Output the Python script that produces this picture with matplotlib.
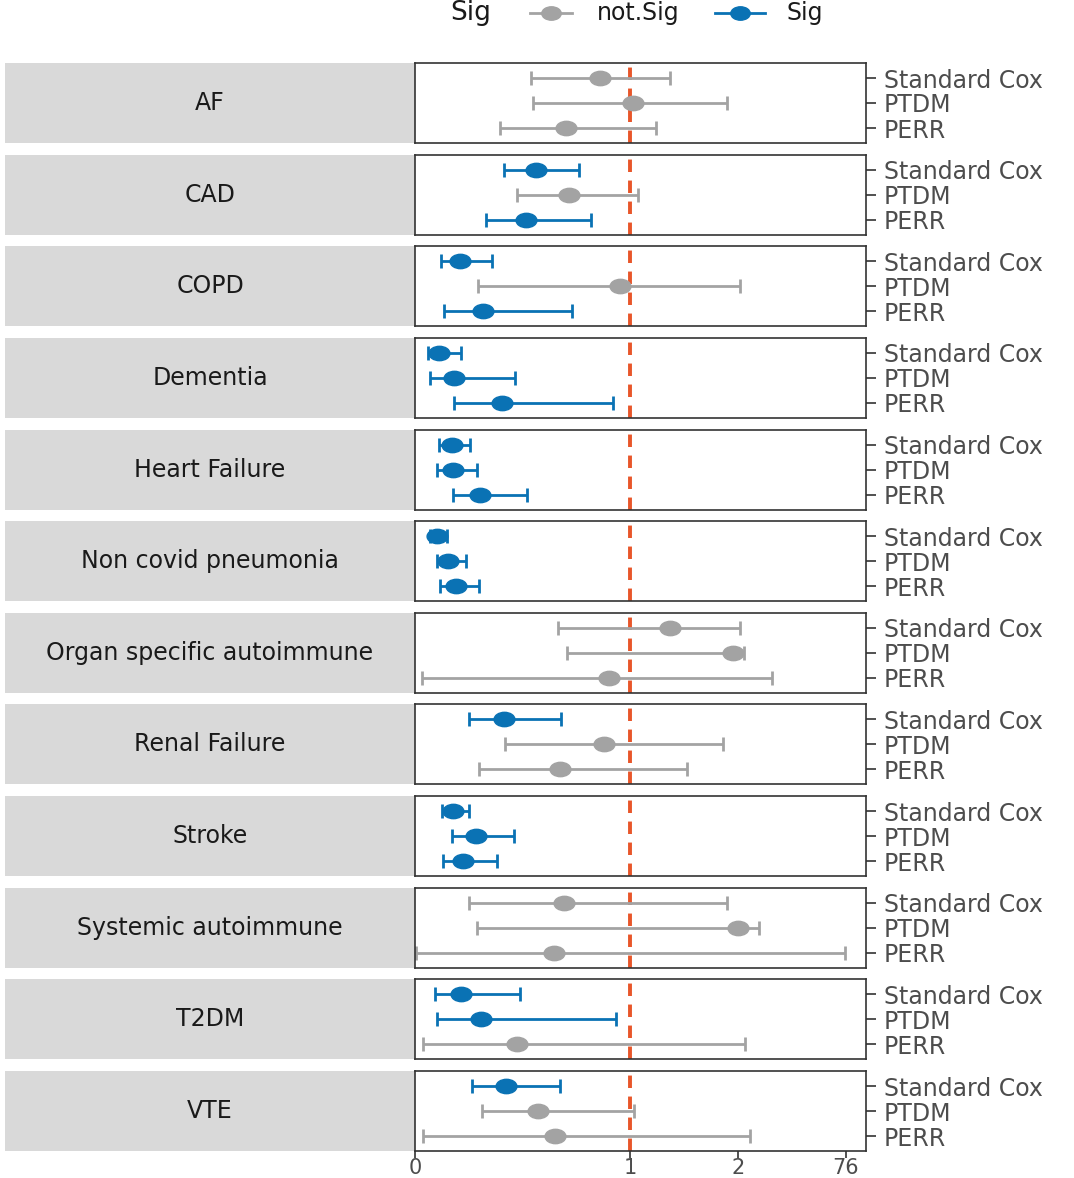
"""
Forest plot: hazard ratios per outcome for Standard Cox, PTDM and PERR.
"""

import numpy as np
import matplotlib.pyplot as plt
from matplotlib.lines import Line2D
from matplotlib.path import Path

# outcomes, top to bottom
outcomes = ["AF", "CAD", "COPD", "Dementia", "Heart Failure",
            "Non covid pneumonia", "Organ specific autoimmune", "Renal Failure",
            "Stroke", "Systemic autoimmune", "T2DM", "VTE"]
methods = ["Standard Cox", "PTDM", "PERR"]

# values on the plotted (transformed) x scale, one row per outcome,
# columns = Standard Cox, PTDM, PERR
est = [
    [1.717, 2.023, 1.401],
    [1.123, 1.429, 1.030],
    [0.418, 1.903, 0.631],
    [0.223, 0.362, 0.807],
    [0.343, 0.353, 0.603],
    [0.204, 0.306, 0.381],
    [2.367, 2.951, 1.800],
    [0.826, 1.754, 1.346],
    [0.353, 0.566, 0.445],
    [1.383, 2.998, 1.290],
    [0.427, 0.613, 0.947],
    [0.845, 1.142, 1.299],
]
lower = [
    [1.077, 1.095, 0.789],
    [0.826, 0.947, 0.659],
    [0.241, 0.585, 0.269],
    [0.121, 0.139, 0.362],
    [0.223, 0.204, 0.353],
    [0.139, 0.204, 0.232],
    [1.327, 1.411, 0.065],
    [0.501, 0.835, 0.594],
    [0.251, 0.343, 0.260],
    [0.501, 0.575, 0.009],
    [0.186, 0.204, 0.074],
    [0.529, 0.622, 0.074],
]
upper = [
    [2.367, 2.896, 2.237],
    [1.522, 2.070, 1.633],
    [0.715, 3.016, 1.457],
    [0.427, 0.928, 1.838],
    [0.510, 0.575, 1.039],
    [0.297, 0.473, 0.594],
    [3.016, 3.053, 3.313],
    [1.355, 2.858, 2.524],
    [0.501, 0.919, 0.761],
    [2.896, 3.193, 3.991],
    [0.974, 1.865, 3.063],
    [1.346, 2.032, 3.109],
]
sig = [
    [0, 0, 0],
    [1, 0, 1],
    [1, 0, 1],
    [1, 1, 1],
    [1, 1, 1],
    [1, 1, 1],
    [0, 0, 0],
    [1, 0, 0],
    [1, 1, 1],
    [0, 0, 0],
    [1, 1, 0],
    [1, 0, 0],
]
tick_pos = [0, 2, 3, 4]
tick_labels = ["0", "1", "2", "76"]
null_pos = 2

GREY = "#a3a3a3"
BLUE = "#0a72b4"
RED = "#e8562a"

# slightly wide ellipse marker
circ = Path.unit_circle()
ellipse = Path(circ.vertices * np.array([1.45, 1.0]), circ.codes)

W, H = 1074, 1178
fig = plt.figure(figsize=(W / 100, H / 100), dpi=100)


def fx(px):
    return px / W


def fy(py):
    return 1 - py / H


top0, step, ph = 63, 91.64, 80
px_left, px_right, strip_left = 415, 866, 5

for i, name in enumerate(outcomes):
    t = top0 + i * step
    strip = fig.add_axes([fx(strip_left), fy(t + ph), fx(px_left - strip_left), ph / H])
    strip.set_facecolor("#d9d9d9")
    strip.set_xticks([])
    strip.set_yticks([])
    for s in strip.spines.values():
        s.set_visible(False)
    strip.text(0.5, 0.5, name, ha="center", va="center", fontsize=17, color="#1a1a1a",
               transform=strip.transAxes)

    ax = fig.add_axes([fx(px_left), fy(t + ph), fx(px_right - px_left), ph / H])
    ax.axvline(null_pos, color=RED, lw=2.8, ls=(0, (3.2, 2.2)), zorder=1)
    for j in range(3):
        c = BLUE if sig[i][j] else GREY
        y = j + 1
        ax.errorbar(est[i][j], y,
                    xerr=[[est[i][j] - lower[i][j]], [upper[i][j] - est[i][j]]],
                    fmt="none", ecolor=c, elinewidth=2, capsize=5, capthick=2, zorder=2)
        ax.plot(est[i][j], y, marker=ellipse, ms=15, color=c, ls="none", zorder=3)
    ax.set_xlim(0, 4.19)
    ax.set_ylim(3.6, 0.4)
    ax.yaxis.tick_right()
    ax.set_yticks([1, 2, 3])
    ax.set_yticklabels(methods)
    ax.tick_params(axis="y", length=7, width=1.2, colors="#333333", labelcolor="#4d4d4d",
                   labelsize=17, pad=6)
    for s in ax.spines.values():
        s.set_color("#333333")
        s.set_linewidth(1.2)
    if i == len(outcomes) - 1:
        ax.set_xticks(tick_pos)
        ax.set_xticklabels(tick_labels)
        ax.tick_params(axis="x", length=5, width=1.2, colors="#333333", labelcolor="#4d4d4d",
                       labelsize=15, pad=0)
    else:
        ax.set_xticks([])

# legend at top
ly = fy(13)
fig.text(fx(450), ly, "Sig", fontsize=19, va="center", ha="left", color="#1a1a1a")
for x0, x1, c, lab, tx in [(530, 572, GREY, "not.Sig", 597), (715, 765, BLUE, "Sig", 787)]:
    fig.add_artist(Line2D([fx(x0), fx(x1)], [ly, ly], color=c, lw=2, transform=fig.transFigure))
    fig.add_artist(Line2D([fx((x0 + x1) / 2)], [ly], color=c, marker=ellipse, ms=14,
                          transform=fig.transFigure))
    fig.text(fx(tx), ly, lab, fontsize=17, va="center", ha="left", color="#1a1a1a")

fig.savefig("out.png", dpi=100)
